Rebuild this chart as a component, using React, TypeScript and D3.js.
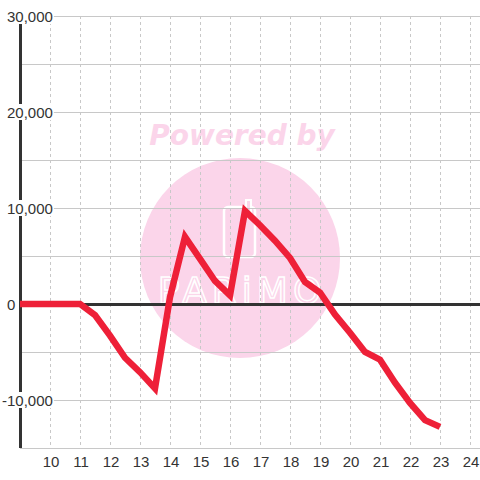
import React from "react";
import * as d3 from "d3";

const xs = [9, 9.5, 10, 10.5, 11, 11.5, 12, 12.5, 13, 13.5, 14, 14.5, 15, 15.5, 16, 16.5, 17, 17.5, 18, 18.5, 19, 19.5, 20, 20.5, 21, 21.5, 22, 22.5, 23];
const values = [0, 0, 0, 0, 0, -1150, -3300, -5600, -7100, -8800, 700, 7000, 4700, 2400, 900, 9700, 8200, 6600, 4800, 2300, 1200, -1100, -3000, -5000, -5800, -8200, -10300, -12100, -12800];
const xTicks = [10, 11, 12, 13, 14, 15, 16, 17, 18, 19, 20, 21, 22, 23, 24];
const yGrid = [30000, 25000, 20000, 15000, 10000, 5000, 0, -5000, -10000, -15000];
const yLabels = [30000, 20000, 10000, 0, -10000];

const W = 480, H = 480;

function estWidth(s: string, size: number) {
  let w = 0;
  for (const c of s) {
    if (c === ",") w += 0.278;
    else if (c === "-") w += 0.333;
    else w += 0.556;
  }
  return w * size;
}

export default function App() {
  const x = d3.scaleLinear().domain([9, 24]).range([20, 470]);
  const y = d3.scaleLinear().domain([-15000, 30000]).range([448, 16]);
  const line = d3.line<number>().x((_, i) => x(xs[i])).y((d) => y(d));
  const fmt = d3.format(",");
  const font = "'Liberation Sans', Arial, sans-serif";
  const fs = 15;
  return (
    <svg width={W} height={H} style={{ position: "absolute", left: 0, top: 0, background: "#fff" }}>
      <rect width={W} height={H} fill="#fff" />
      {/* watermark */}
      <circle cx={240} cy={258} r={100} fill="#fbd5ea" />
      <text x={242} y={145} textAnchor="middle" fontFamily="'DejaVu Sans', sans-serif" fontWeight="bold" fontStyle="italic" fontSize={28} fill="#fbd5ea">Powered by</text>
      <rect x={224} y={207} width={31} height={50} rx={4} fill="none" stroke="#fff" strokeWidth={2.5} />
      <rect x={246} y={200} width={5} height={12} fill="#fbd5ea" stroke="#fff" strokeWidth={2} />
      <text x={242} y={303} textAnchor="middle" fontFamily="'DejaVu Sans', sans-serif" fontSize={36} letterSpacing={5} fill="none" stroke="#fff" strokeWidth={1.5}>PARiMO</text>
      {/* vertical dashed grid */}
      {xTicks.map((t) => (
        <line key={"vx" + t} x1={x(t) + 0.5} x2={x(t) + 0.5} y1={16} y2={448} stroke="#c8c8c8" strokeDasharray="3,3" />
      ))}
      {/* horizontal grid */}
      {yGrid.map((v) => (
        <line key={"hy" + v} x1={20} x2={W} y1={y(v) + 0.5} y2={y(v) + 0.5} stroke={v === 0 ? "#333" : "#c8c8c8"} strokeWidth={v === 0 ? 3 : 1} />
      ))}
      {/* y axis */}
      <line x1={20.5} x2={20.5} y1={16} y2={448} stroke="#333" strokeWidth={3} />
      {/* y labels with background */}
      {yLabels.map((v) => {
        const s = fmt(v).replace("−", "-");
        const w = estWidth(s, fs);
        const lead = v < 0 ? estWidth("-", fs) : 0;
        const x0 = 7 - lead;
        return (
          <g key={"yl" + v}>
            <rect x={x0 - 1} y={y(v) - 8} width={w + 2} height={16} fill="#fff" />
            <text x={x0} y={y(v) + 5.5} textAnchor="start" fontFamily={font} fontSize={fs} fill="#333">{s}</text>
          </g>
        );
      })}
      {/* x labels */}
      {xTicks.map((t) => (
        <text key={"xl" + t} x={x(t) + 1} y={467} textAnchor="middle" fontFamily={font} fontSize={fs} fill="#333">{t}</text>
      ))}
      {/* data line */}
      <path d={line(values) || ""} fill="none" stroke="#ee2038" strokeWidth={6.5} strokeLinejoin="miter" />
    </svg>
  );
}
